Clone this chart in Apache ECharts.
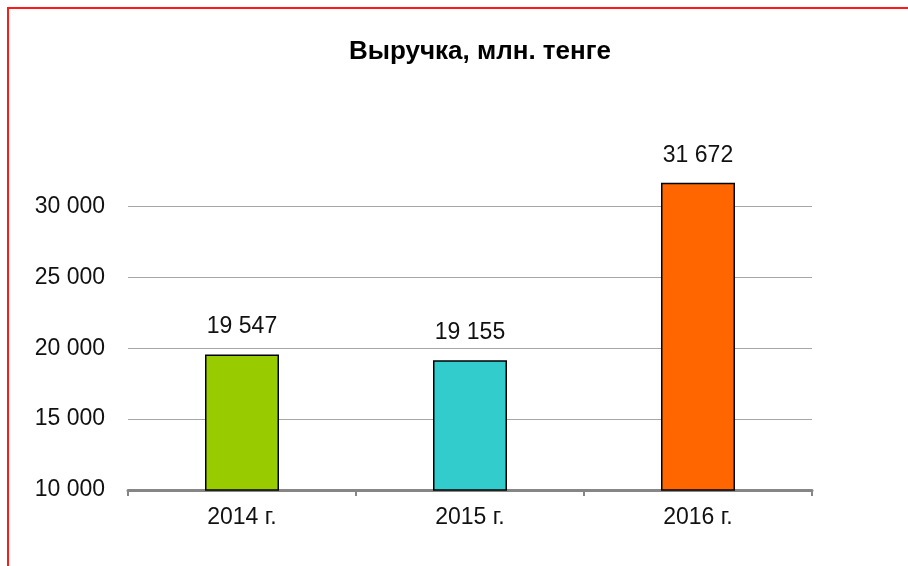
<!DOCTYPE html>
<html>
<head>
<meta charset="utf-8">
<script src="https://cdn.jsdelivr.net/npm/echarts@6/dist/echarts.min.js"></script>
<style>
  html, body { margin: 0; padding: 0; background: #fff; }
  #chart { width: 908px; height: 566px; }
  /* red frame, top and left only */
  #frame {
    position: absolute; left: 7px; top: 7px; right: 0; bottom: 0;
    border-top: 2px solid #ff1a1a; border-left: 2px solid #ff1a1a;
    pointer-events: none;
  }
</style>
</head>
<body>
<div id="chart"></div>
<div id="frame"></div>
<script>
  var categories = ["2014 г.", "2015 г.", "2016 г."];
  var revenue = [19547, 19155, 31672];
  var barColors = ["#99cc00", "#33cccc", "#ff6600"];
  var yTicks = [10000, 15000, 20000, 25000, 30000];

  function fmt(v) {
    return String(v).replace(/\B(?=(\d{3})+(?!\d))/g, " ");
  }

  var chart = echarts.init(document.getElementById("chart"));
  chart.setOption({
    animation: false,
    textStyle: { fontFamily: "Liberation Sans, Arial, sans-serif" },
    title: {
      text: "Выручка, млн. тенге",
      left: 475,
      textAlign: "center",
      top: 34,
      textStyle: { fontSize: 26, fontWeight: "bold", color: "#000" }
    },
    grid: { left: 128, right: 96, top: 135.5, bottom: 76 },
    xAxis: {
      type: "category",
      data: categories,
      axisLine: { lineStyle: { color: "#868686", width: 3 } },
      axisTick: { show: true, length: 6, lineStyle: { color: "#868686", width: 2 } },
      axisLabel: { color: "#111", fontSize: 23, margin: 16 }
    },
    yAxis: {
      type: "value",
      min: 10000,
      max: 35000,
      interval: 5000,
      axisLine: { show: false },
      axisTick: { show: false },
      axisLabel: {
        color: "#111",
        fontSize: 23,
        margin: 23,
        formatter: function (v) { return yTicks.indexOf(v) >= 0 ? fmt(v) : ""; }
      },
      splitLine: {
        lineStyle: {
          color: ["transparent", "#a6a6a6", "#a6a6a6", "#a6a6a6", "#a6a6a6", "transparent"],
          width: 1
        }
      }
    },
    series: [{
      type: "bar",
      barWidth: 74,
      data: revenue.map(function (v, i) {
        return { value: v, itemStyle: { color: barColors[i] } };
      }),
      itemStyle: { borderColor: "#000", borderWidth: 1.5 },
      label: {
        show: true,
        position: "top",
        distance: 16,
        color: "#111",
        fontSize: 23,
        formatter: function (p) { return fmt(p.value); }
      }
    }]
  });
</script>
</body>
</html>
